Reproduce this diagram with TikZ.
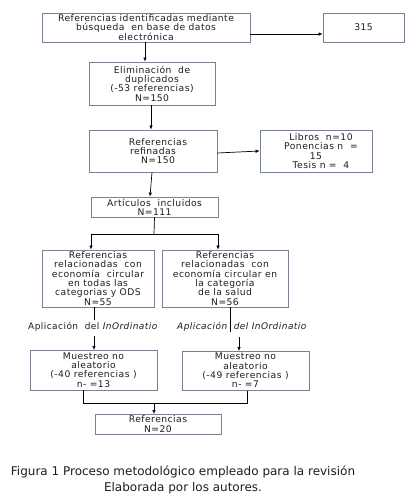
\documentclass[tikz,border=0pt]{standalone}
\usepackage{fontspec}
\setmainfont{DejaVu Sans}
\newfontfamily\boxfont[LetterSpace=5]{DejaVu Sans}
\usetikzlibrary{arrows.meta}
\definecolor{boxline}{RGB}{120,130,145}
\definecolor{txt}{RGB}{30,30,30}
\tikzset{
  box/.style={draw=boxline, line width=0.8pt, align=center, inner sep=0pt,
    font=\boxfont\fontsize{9.2}{9.3}\selectfont, text=txt},
  conn/.style={draw=black, line width=0.7pt},
  arr/.style={conn, -{Latex[length=4pt,width=3.6pt]}},
  lab/.style={font=\boxfont\fontsize{9}{9.3}\selectfont, text=txt, inner sep=0pt},
  captxt/.style={font=\fontsize{12}{14}\selectfont, text=txt, inner sep=0pt}
}
\begin{document}
\begin{tikzpicture}[x=1pt,y=-1pt]
\useasboundingbox (0,0) rectangle (410,504);
\fill[white] (0,0) rectangle (410,504);
% nodes
\node[box, minimum width=208pt, minimum height=29pt] (b1) at (146,27.5)
  {Referencias identificadas mediante\\b\'usqueda\ \ en base de datos\hspace{10pt}\\electr\'onica};
\node[box, minimum width=81pt, minimum height=29pt] (b315) at (363.5,27.5) {315};
\node[box, minimum width=126pt, minimum height=43pt] (b2) at (152,83.5)
  {Eliminaci\'on\ \ de\\duplicados\hspace{8pt}\\(-53 referencias)\\N=150};
\node[box, minimum width=128pt, minimum height=42pt] (b3) at (153,151)
  {\hspace{10pt}Referencias\\refinadas\hspace{2pt}\\\hspace{10pt}N=150};
\node[box, minimum width=112pt, minimum height=42pt] (b4) at (316,151)
  {\hspace{10pt}Libros\ \ n=10\\\hspace{10pt}Ponencias n\ \ =\\15\\\hspace{10pt}Tesis n\ =\ \ 4};
\node[box, minimum width=127pt, minimum height=20pt] (b5) at (154.5,207)
  {Art\'iculos\ \ incluidos\\N=111};
\node[box, minimum width=112pt, minimum height=57pt] (b6) at (98,278.5)
  {Referencias\\relacionadas\ \ con\\econom\'ia\ \ circular\\en todas las\\categorias y ODS\\N=55};
\node[box, minimum width=126pt, minimum height=57pt] (b7) at (225,278.5)
  {Referencias\\relacionadas\ \ con\\econom\'ia circular en\\la categor\'ia\hspace{14pt}\\de la salud\\N=56};
\node[lab] (l1) at (93,327) {Aplicaci\'on\ \ del \textit{InOrdinatio}};
\node[lab] (l2) at (242,327) {\textit{Aplicaci\'on\ \ del InOrdinatio}};
\node[box, minimum width=127pt, minimum height=40pt] (b8) at (93.5,370)
  {Muestreo no\\aleatorio\\(-40 referencias )\\n- =13};
\node[box, minimum width=127pt, minimum height=39pt] (b9) at (245.5,370.5)
  {Muestreo no\\aleatorio\\(-49 referencias )\\n- =7};
\node[box, minimum width=126pt, minimum height=20pt] (b10) at (158,424)
  {Referencias\\N=20};
\node[captxt] (c1) at (183,472) {Figura 1 Proceso metodol\'ogico empleado para la revisi\'on};
\node[captxt] (c2) at (183,488) {Elaborada por los autores.};
% connectors
\draw[arr] ([yshift=-6.5pt]b1.east) -- ([yshift=-6.5pt]b315.west);
\draw[arr] ([xshift=-1pt]b1.south) -- ([xshift=-1pt]b1.south |- b2.north);
\draw[arr] ([xshift=-1pt]b2.south) -- ([xshift=-1pt]b2.south |- b3.north);
\draw[arr] ([yshift=-2pt]b3.east) -- (b4.west);
\draw[arr] ([xshift=-1pt]b3.south) -- ([xshift=-4.5pt]b5.north);
\coordinate (s1) at (154,234);
\draw[conn] (b5.south) -- (s1);
\draw[conn] (91,234) -- (218,234);
\draw[arr] (91,234) -- (91,234 |- b6.north);
\draw[arr] (218,234) -- (218,234 |- b7.north);
\draw[conn] (94,307) -- (94,320);
\draw[arr] (94,336) -- (94,350);
\coordinate (r1) at (230,332);
\draw[conn] (230,307) -- (r1);
\draw[arr] (239,337) -- (239,351);
\draw[conn] (83,390) -- (83,403) -- (247,403) -- (247,390.5);
\draw[arr] (154,403) -- (154,414);
\end{tikzpicture}
\end{document}
